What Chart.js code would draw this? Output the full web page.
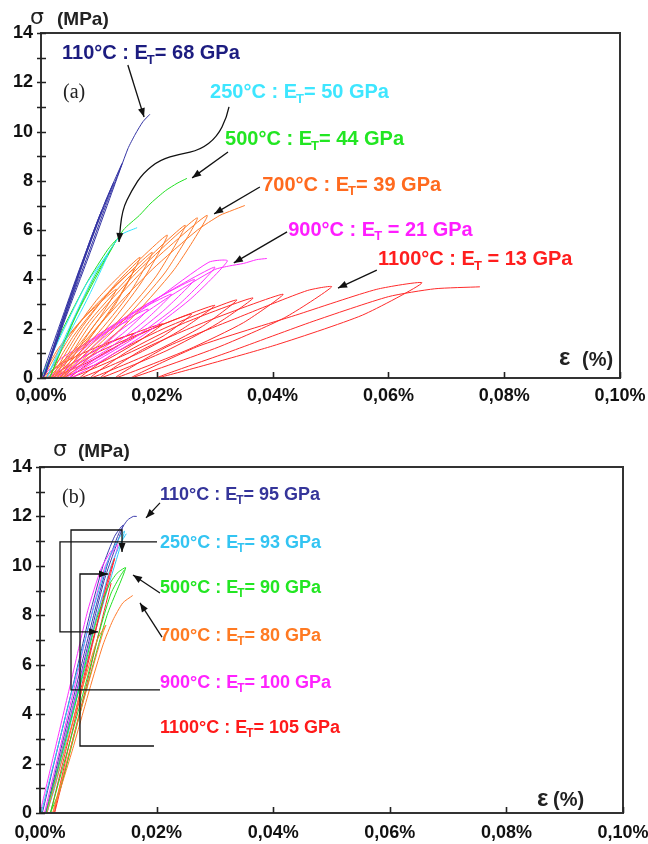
<!DOCTYPE html>
<html><head><meta charset="utf-8">
<script src="https://cdn.jsdelivr.net/npm/chart.js@4.4.1/dist/chart.umd.min.js"></script>
<style>
html,body{margin:0;padding:0;background:#fff;}
#wrap{position:relative;width:648px;height:844px;overflow:hidden;}
canvas{position:absolute;left:0;}
#c1{top:0}
#c2{top:420px}
</style></head><body>
<div id="wrap"><canvas id="c1" width="648" height="420"></canvas><canvas id="c2" width="648" height="424"></canvas></div>
<script>
// ---------- tick labels ----------
const xTickValues = [0, 0.02, 0.04, 0.06, 0.08, 0.10];
const xTickLabels = ['0,00%', '0,02%', '0,04%', '0,06%', '0,08%', '0,10%'];
const yTickValues = [0,1,2,3,4,5,6,7,8,9,10,11,12,13,14];
const yTickLabels = ['0','','2','','4','','6','','8','','10','','12','','14'];

// ---------- series (a): strain %, stress MPa ----------
const seriesNames = ['110°C','250°C','500°C','700°C','900°C','1100°C'];
const a110 = [[0,0],[0.0030,2.0],[0.0060,4.0],[0.0090,5.9],[0.0105,6.8],
 [0.0085,5.6],[0.0055,3.6],[0.0025,1.5],[0.0004,0],
 [0.0035,2.2],[0.0068,4.4],[0.0100,6.4],[0.0125,7.9],
 [0.0098,6.4],[0.0065,4.2],[0.0030,1.8],[0.0006,0.1],
 [0.0040,2.4],[0.0078,4.8],[0.0112,7.0],[0.0140,8.7],
 [0.0110,7.1],[0.0072,4.6],[0.0035,2.0],[0.0008,0.2],
 [0.0045,2.6],[0.0085,5.1],[0.0122,7.5],[0.0150,9.3],
 [0.0163,9.9],[0.0176,10.4],[0.0188,10.7]];
const a250 = [[0,0],[0.0038,1.9],[0.0078,3.8],[0.0115,5.0],[0.0082,3.3],[0.0042,1.5],[0.0010,0],
 [0.0050,2.1],[0.0095,4.3],[0.0138,5.8],[0.0166,6.1]];
const a500 = [[0,0],[0.0038,2.0],[0.0080,3.9],[0.0115,5.2],[0.0130,5.6],[0.0102,4.4],[0.0060,2.5],[0.0015,0],
 [0.0055,2.3],[0.0095,4.2],[0.0142,6.0],[0.0170,6.6],[0.0190,7.1],[0.0215,7.6],[0.0235,7.9],[0.0252,8.1]];
const a700 = [[0,0],[0.0030,1.2],[0.0072,2.4],[0.0130,3.6],[0.0100,2.4],[0.0060,1.2],[0.0005,0],
 [0.0041,1.5],[0.0092,2.9],[0.0160,4.4],[0.0126,2.9],[0.0076,1.5],[0.0010,0],
 [0.0048,1.6],[0.0101,3.3],[0.0171,4.9],[0.0135,3.3],[0.0083,1.6],[0.0015,0],
 [0.0056,1.7],[0.0115,3.4],[0.0192,5.1],[0.0152,3.4],[0.0094,1.7],[0.0020,0],
 [0.0066,1.9],[0.0132,3.9],[0.0218,5.8],[0.0174,3.9],[0.0109,1.9],[0.0025,0],
 [0.0077,2.1],[0.0152,4.1],[0.0249,6.2],[0.0198,4.1],[0.0125,2.1],[0.0030,0],
 [0.0086,2.2],[0.0166,4.3],[0.0270,6.5],[0.0215,4.3],[0.0137,2.2],[0.0035,0],
 [0.0094,2.2],[0.0178,4.4],[0.0287,6.6],[0.0230,4.4],[0.0147,2.2],[0.0040,0],
 [0.0103,2.2],[0.0192,4.4],[0.0270,6.0],[0.0309,6.6],[0.0330,6.8],[0.0352,7.0]];
const a900 = [[0,0],[0.0035,0.8],[0.0085,1.5],[0.0150,2.3],[0.0117,1.5],[0.0069,0.8],[0.0008,0],
 [0.0049,0.9],[0.0108,1.9],[0.0185,2.8],[0.0146,1.9],[0.0089,0.9],[0.0016,0],
 [0.0065,1.1],[0.0134,2.3],[0.0225,3.4],[0.0178,2.3],[0.0111,1.1],[0.0024,0],
 [0.0080,1.3],[0.0161,2.7],[0.0265,4.0],[0.0210,2.7],[0.0133,1.3],[0.0032,0],
 [0.0094,1.5],[0.0184,3.0],[0.0300,4.5],[0.0239,3.0],[0.0153,1.5],[0.0040,0],
 [0.0106,1.6],[0.0200,3.2],[0.0290,4.7],[0.0322,4.75],[0.0258,3.2],[0.0168,1.6],[0.0050,0],
 [0.0118,1.6],[0.0215,3.2],[0.0300,4.4],[0.0326,4.55],[0.0350,4.65],[0.0372,4.8],[0.0390,4.85]];
const a1100 = [[0,0],[0.0037,0.6],[0.0091,1.2],[0.0160,1.8],[0.0126,1.2],[0.0078,0.6],[0.0016,0],
 [0.0062,0.7],[0.0126,1.5],[0.0210,2.2],[0.0169,1.5],[0.0110,0.7],[0.0033,0],
 [0.0086,0.9],[0.0161,1.7],[0.0260,2.6],[0.0211,1.7],[0.0141,0.9],[0.0050,0],
 [0.0108,1.0],[0.0192,2.0],[0.0300,2.95],[0.0245,2.0],[0.0168,1.0],[0.0067,0],
 [0.0130,1.05],[0.0221,2.1],[0.0338,3.17],[0.0279,2.1],[0.0194,1.05],[0.0085,0],
 [0.0151,1.1],[0.0244,2.2],[0.0366,3.25],[0.0304,2.2],[0.0216,1.1],[0.0102,0],
 [0.0175,1.15],[0.0281,2.25],[0.0418,3.4],[0.0350,2.25],[0.0254,1.15],[0.0128,0],
 [0.0216,1.25],[0.0340,2.45],[0.0460,3.55],[0.0502,3.7],[0.0421,2.45],[0.0306,1.25],[0.0155,0],
 [0.0273,1.3],[0.0440,2.55],[0.0580,3.6],[0.0658,3.86],[0.0555,2.55],[0.0400,1.3],[0.0200,0],
 [0.0330,1.1],[0.0470,2.3],[0.0600,3.3],[0.0680,3.62],[0.0758,3.7]];

// ---------- series (b) ----------
const b110 = [[0.0004,0],[0.0030,2.6],[0.0058,5.3],[0.0085,8.0],[0.0108,10.0],[0.0128,11.2],[0.0140,11.6],[0.0143,11.65],
 [0.0110,9.4],[0.0070,5.6],[0.0030,1.8],[0.0010,0],
 [0.0036,2.6],[0.0064,5.3],[0.0092,8.0],[0.0115,10.0],[0.0135,11.3],[0.0150,11.85],[0.0160,12.0],[0.0166,12.0]];
const b250 = [[0.0002,0],[0.0032,2.8],[0.0062,5.6],[0.0092,8.3],[0.0118,10.3],[0.0135,11.1],[0.0145,11.4],
 [0.0110,8.6],[0.0065,4.8],[0.0025,1.0],[0.0012,0],
 [0.0042,2.8],[0.0072,5.6],[0.0100,8.2],[0.0122,10.0],[0.0138,10.9],[0.0148,11.3]];
const b500 = [[0.0010,0],[0.0040,2.6],[0.0070,5.3],[0.0098,7.9],[0.0118,9.2],[0.0132,9.7],[0.0147,9.92],
 [0.0115,8.0],[0.0075,4.6],[0.0035,1.0],[0.0018,0],
 [0.0048,2.6],[0.0078,5.2],[0.0105,7.6],[0.0122,8.9],[0.0138,9.6],[0.0145,9.85]];
const b700 = [[0.0012,0],[0.0042,2.5],[0.0072,5.0],[0.0098,7.0],[0.0113,7.6],[0.0108,7.3],
 [0.0080,5.0],[0.0045,2.0],[0.0022,0],
 [0.0055,2.5],[0.0085,5.0],[0.0108,6.8],[0.0125,7.8],[0.0142,8.5],[0.0159,8.8]];
const b900 = [[0.0000,0],[0.0028,2.8],[0.0055,5.5],[0.0082,8.2],[0.0105,9.9],[0.0122,10.6],[0.0134,10.85],
 [0.0100,8.2],[0.0060,4.6],[0.0022,1.0],[0.0008,0],
 [0.0036,2.8],[0.0063,5.5],[0.0090,8.2],[0.0112,10.0],[0.0128,10.7]];
const b1100 = [[0.0018,0],[0.0045,2.6],[0.0072,5.2],[0.0098,7.7],[0.0118,9.6],[0.0128,10.3],
 [0.0100,7.8],[0.0065,4.3],[0.0035,1.2],[0.0025,0],
 [0.0050,2.4],[0.0078,5.0],[0.0104,7.6],[0.0122,9.3]];

// ---------- annotations (data coordinates) ----------
const aLabels = [
 ['110°C : E','T','= 68 GPa',0.00363,13.15,'#1c1c80'],
 ['250°C : E','T','= 50 GPa',0.0292,11.57,'#3ee6ff'],
 ['500°C : E','T','= 44 GPa',0.0318,9.66,'#22e622'],
 ['700°C : E','T','= 39 GPa',0.0382,7.83,'#ff6a1e'],
 ['900°C : E','T',' = 21 GPa',0.0427,6.0,'#ff1eff'],
 ['1100°C : E','T',' = 13 GPa',0.0582,4.79,'#ff1e1e']];
const aArrows = [
 [[0.0150,12.70],[0.0178,10.59]],
 [[0.0323,9.17],[0.0261,8.12]],
 [[0.0378,7.75],[0.0299,6.66]],
 [[0.0425,5.93],[0.0333,4.67]],
 [[0.0580,4.38],[0.0513,3.65]]];
const aCurve = [[0.03247,11.00],[0.03212,10.59],[0.03040,9.78],[0.02746,9.25],[0.02401,9.09],
 [0.02055,8.85],[0.01762,8.32],[0.01572,7.63],[0.01399,6.82],[0.01347,5.52]];
const bLabels = [
 ['110°C : E','T','= 95 GPa',0.02058,12.87,'#35359a'],
 ['250°C : E','T','= 93 GPa',0.02058,10.93,'#33c4f2'],
 ['500°C : E','T','= 90 GPa',0.02058,9.11,'#22e622'],
 ['700°C : E','T','= 80 GPa',0.02058,7.16,'#ff7a22'],
 ['900°C : E','T','= 100 GPa',0.02058,5.26,'#ff22ff'],
 ['1100°C : E','T','= 105 GPa',0.02058,3.44,'#ff1a1a']];
const bArrows = [
 [[0.02058,12.55],[0.01818,11.94]],
 [[0.02058,8.90],[0.01595,9.63]],
 [[0.02093,7.12],[0.01715,8.50]]];
const bBrackets = [
 [[0.02007,10.97],[0.00343,10.97],[0.00343,7.33],[0.00995,7.33]],
 [[0.02058,4.98],[0.00532,4.98],[0.00532,11.45],[0.01407,11.45],[0.01407,10.56]],
 [[0.01955,2.71],[0.00686,2.71],[0.00686,9.67],[0.01166,9.67]]];

const FONT = '"Liberation Sans", Arial, sans-serif';

function arrowHead(ctx, x0, y0, x1, y1) {
  const ang = Math.atan2(y1 - y0, x1 - x0), len = 9, w = 3.5;
  const bx = x1 - len * Math.cos(ang), by = y1 - len * Math.sin(ang);
  ctx.beginPath();
  ctx.moveTo(x1, y1);
  ctx.lineTo(bx + w * Math.sin(ang), by - w * Math.cos(ang));
  ctx.lineTo(bx - w * Math.sin(ang), by + w * Math.cos(ang));
  ctx.closePath(); ctx.fill();
}

const annotPlugin = {
  id: 'annot',
  afterDatasetsDraw(chart, args, o) {
    const {ctx, chartArea: A, scales: {x, y}} = chart;
    const P = d => [x.getPixelForValue(d[0]), y.getPixelForValue(d[1])];
    ctx.save();
    // frame
    ctx.strokeStyle = '#333'; ctx.lineWidth = 2;
    ctx.strokeRect(A.left, A.top, A.right - A.left, A.bottom - A.top);
    // ticks
    ctx.lineWidth = 1.6; ctx.strokeStyle = '#222';
    ctx.beginPath();
    y.ticks.forEach(t => { const py = Math.round(y.getPixelForValue(t.value)) + 0.5; ctx.moveTo(A.left - 4, py); ctx.lineTo(A.left + 5, py); });
    x.ticks.forEach(t => { const px = Math.round(x.getPixelForValue(t.value)) + 0.5; ctx.moveTo(px, A.bottom); ctx.lineTo(px, A.bottom - 6); });
    ctx.stroke();
    // labels
    o.labels.forEach(L => {
      const [px, py] = P([L[3], L[4]]);
      ctx.fillStyle = L[5]; ctx.textBaseline = 'middle'; ctx.textAlign = 'left';
      ctx.font = 'bold ' + o.fs + 'px ' + FONT;
      ctx.fillText(L[0], px, py);
      let w = ctx.measureText(L[0]).width;
      ctx.font = 'bold ' + Math.round(o.fs * 0.65) + 'px ' + FONT;
      ctx.fillText(L[1], px + w - 1, py + o.fs * 0.33);
      const w2 = ctx.measureText(L[1]).width;
      ctx.font = 'bold ' + o.fs + 'px ' + FONT;
      ctx.fillText(L[2], px + w + w2 - 1, py);
    });
    // arrows
    ctx.strokeStyle = '#111'; ctx.fillStyle = '#111'; ctx.lineWidth = 1.3;
    o.arrows.forEach(Ar => {
      const [x0, y0] = P(Ar[0]), [x1, y1] = P(Ar[1]);
      ctx.beginPath(); ctx.moveTo(x0, y0); ctx.lineTo(x1, y1); ctx.stroke();
      arrowHead(ctx, x0, y0, x1, y1);
    });
    if (o.curve) {
      const pts = o.curve.map(P);
      ctx.beginPath(); ctx.moveTo(pts[0][0], pts[0][1]);
      for (let i = 1; i < pts.length - 1; i++) {
        const mx = (pts[i][0] + pts[i + 1][0]) / 2, my = (pts[i][1] + pts[i + 1][1]) / 2;
        ctx.quadraticCurveTo(pts[i][0], pts[i][1], mx, my);
      }
      const n = pts.length;
      ctx.lineTo(pts[n - 1][0], pts[n - 1][1]); ctx.stroke();
      arrowHead(ctx, pts[n - 2][0], pts[n - 2][1], pts[n - 1][0], pts[n - 1][1]);
    }
    (o.brackets || []).forEach(B => {
      const pts = B.map(P);
      ctx.beginPath(); ctx.moveTo(pts[0][0], pts[0][1]);
      pts.slice(1).forEach(p => ctx.lineTo(p[0], p[1]));
      ctx.stroke();
      const n = pts.length;
      arrowHead(ctx, pts[n - 2][0], pts[n - 2][1], pts[n - 1][0], pts[n - 1][1]);
    });
    // panel letter
    ctx.fillStyle = '#222'; ctx.font = '20px "Liberation Serif", "Times New Roman", serif';
    ctx.textBaseline = 'middle';
    ctx.fillText(o.letter[0], o.letter[1], o.letter[2]);
    // axis titles
    ctx.fillStyle = '#222';
    ctx.font = '22px "DejaVu Sans", sans-serif';
    ctx.fillText('σ', o.sig[0], o.sig[1]);
    ctx.font = 'bold 19px ' + FONT;
    ctx.fillText('(MPa)', o.sig[2], o.sig[3]);
    ctx.font = 'bold 24px ' + FONT;
    ctx.fillText('ε', o.eps[0], o.eps[1]);
    ctx.font = 'bold 20px ' + FONT;
    ctx.fillText('(%)', o.eps[2], o.eps[3]);
    ctx.restore();
  }
};

function ds(data, color) {
  return { data: data.map(p => ({x: p[0], y: p[1]})), showLine: true, borderColor: color,
    borderWidth: 1, pointRadius: 0, tension: 0.2, fill: false };
}

function makeChart(id, datasets, cfg) {
  const tickFont = {family: FONT, size: 18, weight: 'bold'};
  return new Chart(document.getElementById(id), {
    type: 'scatter',
    data: {datasets},
    options: {
      responsive: false, animation: false, devicePixelRatio: 1,
      layout: {padding: cfg.pad},
      plugins: {legend: {display: false}, tooltip: {enabled: false}, annot: cfg.annot},
      scales: {
        x: {type: 'linear', min: 0, max: 0.1,
          afterBuildTicks(s) { s.ticks = xTickValues.map(v => ({value: v})); },
          afterFit(s) { s.height = cfg.xh; s.paddingLeft = 0; s.paddingRight = 0; },
          grid: {display: false, drawTicks: false}, border: {display: false},
          ticks: {autoSkip: false, maxRotation: 0, padding: cfg.xpad, color: '#111', font: tickFont,
            callback: (v, i) => xTickLabels[i]}},
        y: {type: 'linear', min: 0, max: 14,
          afterBuildTicks(s) { s.ticks = yTickValues.map(v => ({value: v})); },
          afterFit(s) { s.width = cfg.yw; s.paddingTop = 0; s.paddingBottom = 0; },
          grid: {display: false, drawTicks: false}, border: {display: false},
          ticks: {autoSkip: false, padding: 8, color: '#111', font: tickFont,
            callback: (v, i) => yTickLabels[i]}}
      }
    },
    plugins: [annotPlugin]
  });
}

makeChart('c1', [
  ds(a110, '#3434a4'), ds(a250, '#30e4ff'), ds(a500, '#22e022'),
  ds(a700, '#ff7a2a'), ds(a900, '#ff30ff'), ds(a1100, '#ff2a2a')
], {
  pad: {top: 33, right: 28, left: 0, bottom: 0}, xh: 42, yw: 41, xpad: 7,
  annot: {labels: aLabels, arrows: aArrows, curve: aCurve, brackets: [], fs: 20,
    letter: ['(a)', 63, 93], sig: [30, 18, 57, 20], eps: [559, 358, 582, 360]}
});

makeChart('c2', [
  ds(b700, '#ff7a2a'), ds(b500, '#22e022'), ds(b1100, '#ff2a2a'),
  ds(b250, '#30c8f6'), ds(b900, '#ff30ff'), ds(b110, '#3c3cac')
], {
  pad: {top: 47, right: 25, left: 0, bottom: 0}, xh: 31, yw: 40, xpad: 9,
  annot: {labels: bLabels, arrows: bArrows, curve: null, brackets: bBrackets, fs: 18,
    letter: ['(b)', 62, 78], sig: [53, 30, 78, 32], eps: [537, 379, 553, 380]}
});
</script></body></html>
